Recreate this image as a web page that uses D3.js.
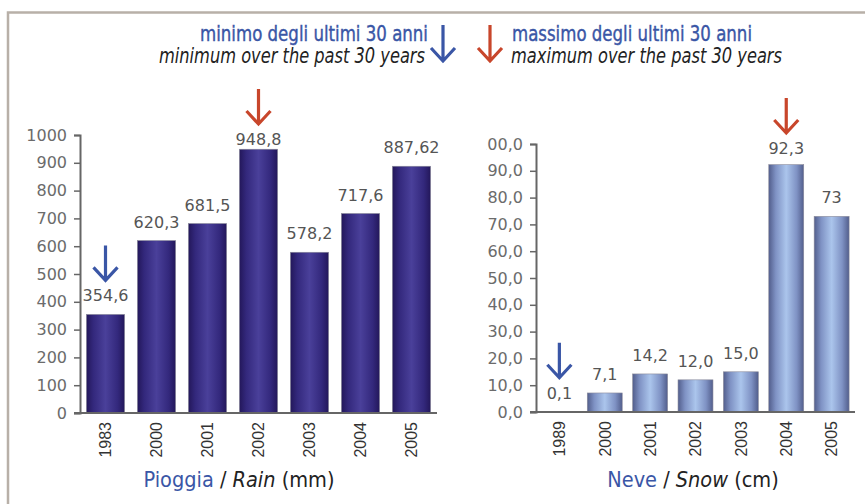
<!DOCTYPE html>
<html>
<head>
<meta charset="utf-8">
<script src="https://cdn.jsdelivr.net/npm/d3@7"></script>
<style>
  body { margin: 0; background: #fff; }
  svg { display: block; }
</style>
</head>
<body>
<div id="chart"></div>
<script>
// dati
const rainYears = ["1983", "2000", "2001", "2002", "2003", "2004", "2005"];
const rainValues = [354.6, 620.3, 681.5, 948.8, 578.2, 717.6, 887.62];
const rainLabels = ["354,6", "620,3", "681,5", "948,8", "578,2", "717,6", "887,62"];
const snowYears = ["1989", "2000", "2001", "2002", "2003", "2004", "2005"];
const snowValues = [0.1, 7.1, 14.2, 12.0, 15.0, 92.3, 73];
const snowLabels = ["0,1", "7,1", "14,2", "12,0", "15,0", "92,3", "73"];
const rainMin = "1983", rainMax = "2002";
const snowMin = "1989", snowMax = "2004";

const W = 865, H = 504;
const BLUE = "#3a56a6", RED = "#c8462b";
const narrow = "'Liberation Sans Narrow', 'DejaVu Sans Condensed', 'DejaVu Sans', sans-serif";

const svg = d3.select("#chart").append("svg")
    .attr("width", W)
    .attr("height", H);

// cornice
svg.append("path")
    .attr("d", `M8,${H} V12.5 H${W}`)
    .attr("fill", "none")
    .attr("stroke", "#b8b0a8")
    .attr("stroke-width", 2.5);

// gradienti
const defs = svg.append("defs");
function gradient(id, stops) {
  const g = defs.append("linearGradient").attr("id", id)
      .attr("x1", 0).attr("x2", 1).attr("y1", 0).attr("y2", 0);
  stops.forEach(s => g.append("stop").attr("offset", s[0]).attr("stop-color", s[1]));
}
gradient("gRain", [[0, "#23175a"], [0.18, "#33287c"], [0.5, "#4a409a"], [0.82, "#33287c"], [1, "#23175a"]]);
gradient("gSnow", [[0, "#525e8c"], [0.2, "#7f92c4"], [0.5, "#abc5ec"], [0.8, "#7f92c4"], [1, "#525e8c"]]);

defs.append("clipPath").attr("id", "clipSnowTicks")
  .append("rect").attr("x", 486.5).attr("y", 0).attr("width", 400).attr("height", H);

// freccia
function arrow(g, x, yTop, yTip, color) {
  g.append("path")
      .attr("d", `M${x},${yTop} V${yTip - 1} M${x - 12},${yTip - 13} L${x},${yTip} L${x + 12},${yTip - 13}`)
      .attr("fill", "none")
      .attr("stroke", color)
      .attr("stroke-width", 3.2)
      .attr("stroke-linejoin", "miter");
}

// testo compresso
function squeezed(g, x, y, anchor, len, txt, italic, color) {
  const t = g.append("text")
      .attr("x", x).attr("y", y)
      .attr("text-anchor", anchor)
      .attr("textLength", len)
      .attr("lengthAdjust", "spacingAndGlyphs")
      .style("font-family", narrow)
      .style("font-size", italic ? "21px" : "22px")
      .style("font-style", italic ? "italic" : "normal")
      .style("fill", color)
      .text(txt);
  if (!italic) t.style("stroke", color).style("stroke-width", 0.4);
  return t;
}

// legenda
const leg = svg.append("g");
squeezed(leg, 428, 41, "end", 228, "minimo degli ultimi 30 anni", false, BLUE);
squeezed(leg, 425, 63, "end", 266, "minimum over the past 30 years", true, "#222");
arrow(leg, 443, 25, 61, BLUE);
arrow(leg, 490, 25, 61, RED);
squeezed(leg, 512, 41, "start", 240, "massimo degli ultimi 30 anni", false, BLUE);
squeezed(leg, 511, 63, "start", 271, "maximum over the past 30 years", true, "#222");

// grafico a barre
function drawBars(opt) {
  const g = svg.append("g");

  const x = d3.scaleBand()
    .domain(opt.years)
    .range([opt.x0, opt.x1])
    .paddingInner(opt.padIn)
    .paddingOuter(opt.padOut);

  const y = d3.scaleLinear()
    .domain([0, opt.max])
    .range([opt.y0, opt.y1]);

  // asse Y
  const yWrap = g.append("g");
  if (opt.clip) yWrap.attr("clip-path", `url(#${opt.clip})`);
  const yAxis = yWrap.append("g")
      .attr("transform", `translate(${opt.x0},0)`)
      .call(d3.axisLeft(y).ticks(10).tickSize(6).tickPadding(7).tickFormat(opt.fmt));
  yAxis.select(".domain").attr("stroke", "#666").attr("stroke-width", 2);
  yAxis.selectAll(".tick line").attr("stroke", "#666").attr("stroke-width", 1.5);
  yAxis.selectAll(".tick text")
      .style("font-family", "'DejaVu Sans', sans-serif")
      .style("font-size", "16px")
      .style("fill", "#6b6b6b");

  // barre
  g.selectAll("rect.bar")
    .data(opt.values)
    .enter().append("rect")
      .attr("class", "bar")
      .attr("x", (d, i) => x(opt.years[i]))
      .attr("y", d => y(d))
      .attr("width", x.bandwidth())
      .attr("height", d => opt.y0 - y(d))
      .attr("fill", `url(#${opt.grad})`)
      .attr("stroke", "#8a8a9a")
      .attr("stroke-width", 0.6);

  // asse X
  g.append("line")
      .attr("x1", opt.x0 - 6).attr("x2", opt.x1)
      .attr("y1", opt.y0).attr("y2", opt.y0)
      .attr("stroke", "#666").attr("stroke-width", 2);

  g.selectAll("text.year")
    .data(opt.years)
    .enter().append("text")
      .attr("class", "year")
      .attr("transform", d => `translate(${x(d) + x.bandwidth() / 2},${opt.y0 + 9}) rotate(-90)`)
      .attr("dy", "0.36em")
      .attr("text-anchor", "end")
      .style("font-family", "'Liberation Sans', Arial, sans-serif")
      .style("font-size", "16px")
      .style("fill", "#333")
      .text(d => d);

  // etichette valori
  const labY = d => Math.max(y(d) - 13, opt.y1 + 10);
  g.selectAll("text.val")
    .data(opt.values)
    .enter().append("text")
      .attr("class", "val")
      .attr("x", (d, i) => x(opt.years[i]) + x.bandwidth() / 2)
      .attr("y", d => labY(d))
      .attr("text-anchor", "middle")
      .style("font-family", "'DejaVu Sans', sans-serif")
      .style("font-size", "16px")
      .style("fill", "#555")
      .text((d, i) => opt.labels[i]);

  // frecce min / max
  [[opt.minYear, BLUE], [opt.maxYear, RED]].forEach(([yr, col]) => {
    const i = opt.years.indexOf(yr);
    const cx = x(yr) + x.bandwidth() / 2;
    const tip = labY(opt.values[i]) - 21;
    arrow(g, cx, tip - 35, tip, col);
  });

  // titolo
  const t = g.append("text")
      .attr("x", opt.titleX).attr("y", 487)
      .attr("text-anchor", "middle")
      .style("font-family", narrow)
      .style("font-size", "21.5px")
      .style("fill", "#222");
  t.append("tspan").style("fill", BLUE).text(opt.title[0]);
  t.append("tspan").text(" / ");
  t.append("tspan").style("font-style", "italic").text(opt.title[1]);
  t.append("tspan").text(" " + opt.title[2]);
}

drawBars({
  years: rainYears, values: rainValues, labels: rainLabels,
  minYear: rainMin, maxYear: rainMax,
  max: 1000, fmt: d3.format("d"),
  x0: 80, x1: 437, y0: 413, y1: 135,
  padIn: 0.25, padOut: 0.125, grad: "gRain",
  titleX: 239, title: ["Pioggia", "Rain", "(mm)"]
});

drawBars({
  years: snowYears, values: snowValues, labels: snowLabels,
  minYear: snowMin, maxYear: snowMax,
  max: 100, fmt: d => d3.format(".1f")(d).replace(".", ","),
  x0: 536, x1: 855, y0: 412, y1: 144,
  padIn: 0.23, padOut: 0.13, grad: "gSnow", clip: "clipSnowTicks",
  titleX: 693, title: ["Neve", "Snow", "(cm)"]
});
</script>
</body>
</html>
